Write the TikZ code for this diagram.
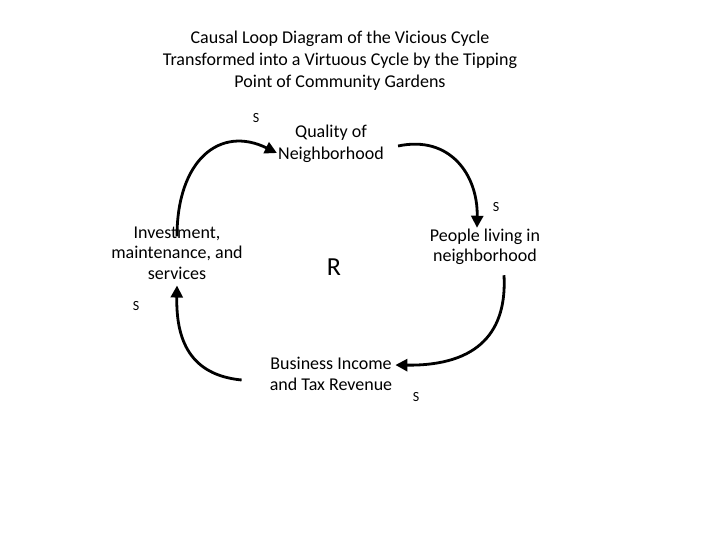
\documentclass[tikz,border=0pt]{standalone}
\usepackage{fontspec}
\setmainfont{Carlito}
\usetikzlibrary{arrows.meta,positioning}

\begin{document}
\begin{tikzpicture}[x=1pt, y=-1pt,
    var/.style={align=center, inner sep=0pt, font=\fontsize{18}{20.5}\selectfont},
    pol/.style={inner sep=0pt, font=\fontsize{14}{16}\selectfont},
    link/.style={line width=2.8pt, -{Triangle[length=12pt,width=12pt]}}
]
\useasboundingbox (0,0) rectangle (720,540);

\node (title) at (340,61) [align=center, font=\fontsize{18}{22}\selectfont]
  {Causal Loop Diagram of the Vicious Cycle\\
   Transformed into a Virtuous Cycle by the Tipping\\
   Point of Community Gardens};

% variables
\node (qual) at (331,144) [var, font=\fontsize{18}{22}\selectfont] {Quality of\\Neighborhood};
\node (people) at (485,247) [var] {People living in\\neighborhood};
\node (biz) at (331,374) [var] {Business Income\\and Tax Revenue};
\node (inv) at (177,253) [var] {Investment,\\maintenance, and\\services};
\node (loop) at (334,267) [font=\fontsize{26}{28}\selectfont] {R};

% polarities
\node (s1) at (256,118) [pol] {S};
\node (s2) at (496,207) [pol] {S};
\node (s3) at (416,397) [pol] {S};
\node (s4) at (136,306) [pol] {S};

% links
\draw[link] ([shift={(0,10)}]inv.north) .. controls (177,160) and (220,125) .. ([shift={(-1,9)}]qual.west);
\draw[link] ([shift={(14,2)}]qual.east) .. controls (450,135) and (478,175) .. ([shift={(-8,-1)}]people.north);
\draw[link] ([shift={(19,10)}]people.south) .. controls (507,330) and (480,366) .. ([shift={(3,-9)}]biz.east);
\draw[link] ([shift={(-28,6)}]biz.west) .. controls (190,375) and (176,340) .. ([shift={(0,6)}]inv.south);

\end{tikzpicture}
\end{document}
